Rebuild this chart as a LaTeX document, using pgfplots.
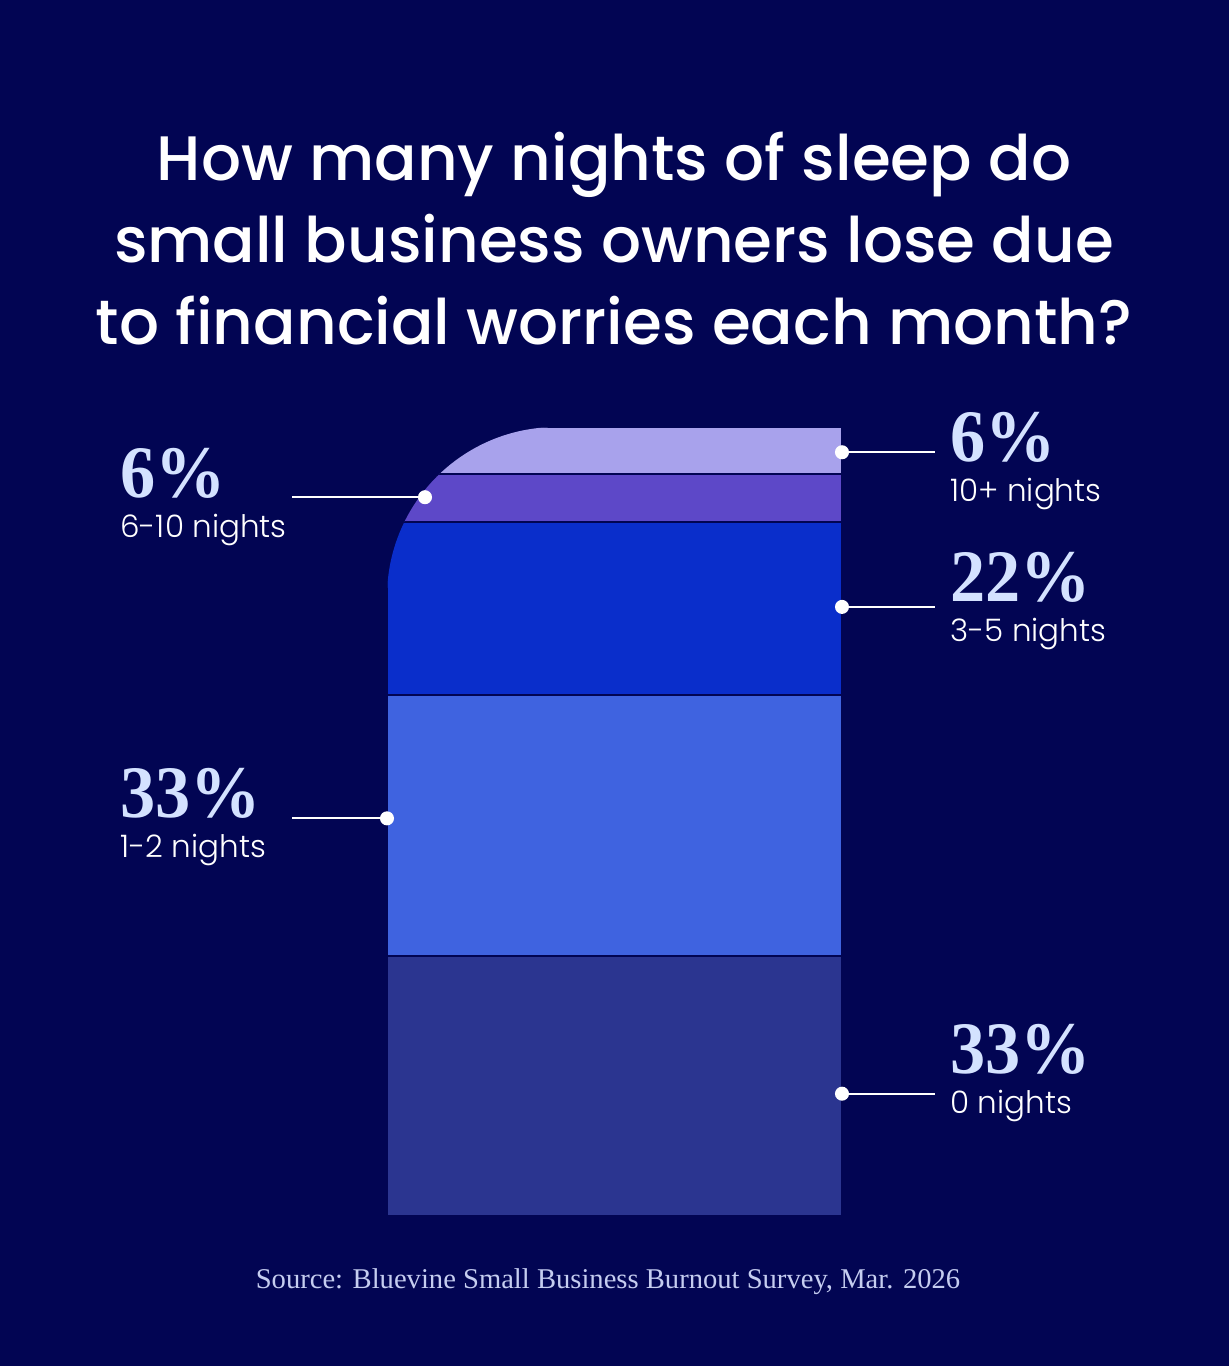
\documentclass[border=0pt]{standalone}
\usepackage{pgfplots}
\pgfplotsset{compat=1.18}
\usepackage{fontspec}
\setmainfont{Poppins}
\newfontfamily\titlefont{Poppins Medium}
\newfontfamily\labfont{Poppins Light}
\newfontfamily\numfont{Liberation Serif}[FakeStretch=0.95]
\newfontfamily\srcfont{Liberation Serif}

\definecolor{bg}{HTML}{020553}
\definecolor{czero}{HTML}{2B3590}
\definecolor{cone}{HTML}{3F63E0}
\definecolor{cthree}{HTML}{0A2ECB}
\definecolor{csix}{HTML}{5D48C8}
\definecolor{cten}{HTML}{A8A2EC}
\definecolor{numcol}{HTML}{D4E2FF}
\definecolor{srccol}{HTML}{C5CDF0}

\pgfplotsset{
  barbox/.style={hide axis, scale only axis, width=227.5pt, height=394.5pt,
    xmin=0, xmax=1, ymin=0, ymax=100},
  leader/.style={white, line width=1pt, mark=*, mark size=3pt,
    mark indices={1}, mark options={fill=white, draw=white}},
}
\tikzset{px/.style={x=0.5pt, y=-0.5pt, shift={(-387,-1216)}}}

\newcommand{\bignum}[1]{{\numfont\bfseries\fontsize{37}{37}\selectfont #1}}
\newcommand{\sublab}[1]{{\labfont\fontsize{15.5}{15.5}\selectfont #1}}
\newcommand{\ttl}[1]{{\titlefont\fontsize{31.4}{31.4}\selectfont #1}}

\begin{document}
\begin{tikzpicture}
\begin{scope}[px]
  \useasboundingbox (0,0) rectangle (1229,1366);
  \fill[bg] (0,0) rectangle (1229,1366);
\end{scope}

% the stacked bar, with its rounded top-left corner
\begin{scope}
\clip[px] (387,1230) -- (387,597) .. controls (387,503) and (463,427) .. (557,427)
  -- (870,427) -- (870,1230) -- cycle;
\begin{axis}[barbox, ybar stacked, bar width=1]
\addplot[fill=czero, draw=bg, line width=1pt] coordinates {(0.5,33)};
\addplot[fill=cone, draw=bg, line width=1pt] coordinates {(0.5,33)};
\addplot[fill=cthree, draw=bg, line width=1pt] coordinates {(0.5,22)};
\addplot[fill=csix, draw=bg, line width=1pt] coordinates {(0.5,6)};
\addplot[fill=cten, draw=bg, line width=1pt] coordinates {(0.5,6)};
\end{axis}
\end{scope}

% leader lines
\begin{axis}[barbox, clip=false]
\addplot[leader] coordinates {(1,96.8) (1.204,96.8)};
\addplot[leader] coordinates {(1,77.2) (1.204,77.2)};
\addplot[leader] coordinates {(1,15.5) (1.204,15.5)};
\addplot[leader] coordinates {(0.0835,91.1) (-0.209,91.1)};
\addplot[leader] coordinates {(0,50.4) (-0.209,50.4)};
\end{axis}

\begin{scope}[px]
  \node[anchor=base, white] at (614,181) {\ttl{How many nights of sleep do}};
  \node[anchor=base, white] at (614,263) {\ttl{small business owners lose due}};
  \node[anchor=base, white] at (614,345) {\ttl{to financial worries each month?}};

  \node[anchor=base west, inner sep=0, numcol] at (120,498) {\bignum{6\%}};
  \node[anchor=base west, inner sep=0, white] at (120,538) {\sublab{6-10 nights}};
  \node[anchor=base west, inner sep=0, numcol] at (120,818) {\bignum{33\%}};
  \node[anchor=base west, inner sep=0, white] at (120,858) {\sublab{1-2 nights}};

  \node[anchor=base west, inner sep=0, numcol] at (950,462) {\bignum{6\%}};
  \node[anchor=base west, inner sep=0, white] at (950,502) {\sublab{10+ nights}};
  \node[anchor=base west, inner sep=0, numcol] at (950,602) {\bignum{22\%}};
  \node[anchor=base west, inner sep=0, white] at (950,642) {\sublab{3-5 nights}};
  \node[anchor=base west, inner sep=0, numcol] at (950,1073) {\bignum{33\%}};
  \node[anchor=base west, inner sep=0, white] at (950,1113) {\sublab{0 nights}};

  \node[anchor=base, srccol] at (608,1288)
    {\srcfont\fontsize{14.3}{14.3}\selectfont Source: Bluevine Small Business Burnout Survey, Mar. 2026};
\end{scope}
\end{tikzpicture}
\end{document}
